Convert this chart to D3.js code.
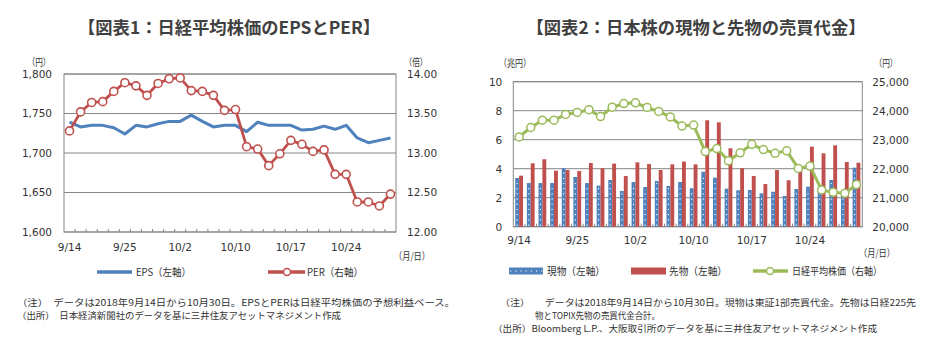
<!DOCTYPE html>
<html><head><meta charset="utf-8">
<script src="https://cdn.jsdelivr.net/npm/d3@7"></script>
<style>
body{margin:0;background:#fff;}
svg{display:block;}
text{fill:#333;}
.num{font-family:"DejaVu Sans",Verdana,sans-serif;font-size:10.5px;}
.jp{font-family:"Noto Sans CJK JP","Noto Sans",sans-serif;}
</style></head>
<body>
<script>
// ---- data ----
const dates = ["9/14","9/18","9/19","9/20","9/21","9/25","9/26","9/27","9/28","10/1","10/2","10/3","10/4","10/5","10/9","10/10","10/11","10/12","10/15","10/16","10/17","10/18","10/19","10/22","10/23","10/24","10/25","10/26","10/29","10/30"];
const dateTicks = ["9/14","9/25","10/2","10/10","10/17","10/24"];
const eps = [1739,1733,1735,1735,1732,1724,1735,1733,1737,1740,1740,1748,1740,1733,1735,1735,1727,1739,1735,1735,1735,1729,1730,1734,1730,1735,1719,1713,1716,1719];
const per = [13.28,13.52,13.64,13.65,13.78,13.89,13.85,13.73,13.88,13.94,13.95,13.79,13.78,13.73,13.54,13.55,13.08,13.05,12.84,12.99,13.16,13.11,13.02,13.04,12.73,12.73,12.38,12.38,12.33,12.48];
const epsTicks = [1600,1650,1700,1750,1800];
const perTicks = [12.0,12.5,13.0,13.5,14.0];
const genbutsu = [3.36,3.01,3.01,3.01,4.03,3.43,3.01,2.83,3.22,2.46,3.08,2.74,3.15,2.81,3.08,2.65,3.79,3.38,2.62,2.51,2.53,2.30,2.41,2.12,2.60,2.76,2.60,3.22,2.30,4.07];
const sakimono = [3.52,4.37,4.65,3.86,3.91,3.84,4.39,4.03,4.35,3.50,4.44,4.32,3.91,4.30,4.49,4.30,7.34,7.20,5.41,4.03,3.50,2.94,3.91,3.20,3.91,5.52,5.06,5.61,4.46,4.41];
const nikkei = [23094.67,23420.54,23672.52,23674.93,23869.93,23940.26,24033.79,23796.74,24120.04,24245.76,24270.62,24110.96,23975.62,23783.72,23469.39,23506.04,22590.86,22694.66,22271.30,22549.24,22841.12,22658.16,22532.08,22614.82,22010.78,22091.18,21268.73,21184.60,21149.80,21457.29];
const valTicks = [0,2,4,6,8,10];
const nkTicks = [20000,21000,22000,23000,24000,25000];

const BLUE="#4F81BD", RED="#C0504D", GREEN="#9BBB59", GRID="#868686";

const svg = d3.select("body").append("svg").attr("width",933).attr("height",356);

function title(x, t, w){
  svg.append("text").attr("class","jp").attr("x",x).attr("y",34)
    .attr("text-anchor","middle").style("font-size","17px").style("font-weight","bold")
    .style("fill","#404040").attr("textLength",w).attr("lengthAdjust","spacingAndGlyphs").text(t);
}
function label(x,y,t,opts={}){
  const e = svg.append("text").attr("class",opts.cls||"jp").attr("x",x).attr("y",y)
    .attr("text-anchor",opts.anchor||"start").attr("dy","0.35em")
    .style("font-size",(opts.size||10.5)+"px").text(t);
  if(opts.len) e.attr("textLength",opts.len).attr("lengthAdjust","spacingAndGlyphs");
  return e;
}
// note line
function note(x,y,t,len){
  svg.append("text").attr("class","jp").style("font-size","9px")
    .attr("x",x).attr("y",y).attr("dy","0.35em")
    .attr("textLength",len).attr("lengthAdjust","spacingAndGlyphs").text(t);
}

// ================= Chart 1 =================
title(229, "【図表1：日経平均株価のEPSとPER】", 302);
const L = {x0:64, x1:396, y0:74, y1:232};
const x1s = d3.scaleBand().domain(dates).range([L.x0, L.x1]).padding(0);
const yE = d3.scaleLinear().domain([1600,1800]).range([L.y1, L.y0]);
const yP = d3.scaleLinear().domain([12,14]).range([L.y1, L.y0]);
const g1 = svg.append("g");

g1.append("g").selectAll("line").data(epsTicks).join("line")
  .attr("x1",L.x0).attr("x2",L.x1).attr("y1",d=>yE(d)).attr("y2",d=>yE(d))
  .attr("stroke",GRID).attr("stroke-width",1);
g1.append("rect").attr("x",L.x0).attr("y",L.y0).attr("width",L.x1-L.x0).attr("height",L.y1-L.y0)
  .attr("fill","none").attr("stroke",GRID).attr("stroke-width",1);
g1.append("g").selectAll("line").data(dates.slice(1)).join("line")
  .attr("x1",d=>x1s(d)).attr("x2",d=>x1s(d)).attr("y1",L.y1).attr("y2",L.y1-3)
  .attr("stroke",GRID);
const axL1 = d3.axisLeft(yE).tickValues(epsTicks).tickFormat(d3.format(",")).tickSize(0).tickPadding(12);
const ga = svg.append("g").attr("transform",`translate(${L.x0},0)`).call(axL1);
const axR1 = d3.axisRight(yP).tickValues(perTicks).tickFormat(d3.format(".2f")).tickSize(0).tickPadding(11);
const gb = svg.append("g").attr("transform",`translate(${L.x1},0)`).call(axR1);
const axB1 = d3.axisBottom(x1s).tickValues(dateTicks).tickSize(0).tickPadding(12);
const gc = svg.append("g").attr("transform",`translate(0,${L.y1})`).call(axB1);
[ga,gb,gc].forEach(g=>{g.select(".domain").remove(); g.attr("font-family",null).attr("font-size",null); g.selectAll("text").attr("class","num").style("fill","#333");});

const lineE = d3.line().x((d,i)=>x1s(dates[i])+x1s.bandwidth()/2).y(d=>yE(d));
g1.append("path").datum(eps).attr("d",lineE).attr("fill","none").attr("stroke",BLUE).attr("stroke-width",3).attr("stroke-linejoin","round");
const lineP = d3.line().x((d,i)=>x1s(dates[i])+x1s.bandwidth()/2).y(d=>yP(d));
g1.append("path").datum(per).attr("d",lineP).attr("fill","none").attr("stroke",RED).attr("stroke-width",2.8).attr("stroke-linejoin","round");
g1.append("g").selectAll("circle").data(per).join("circle")
  .attr("cx",(d,i)=>x1s(dates[i])+x1s.bandwidth()/2).attr("cy",d=>yP(d)).attr("r",4)
  .attr("fill","#fff").attr("stroke",RED).attr("stroke-width",1.6);

label(39,62,"（円）",{anchor:"middle",len:23,size:10});
label(416,62,"（倍）",{anchor:"middle",len:23,size:10});
label(412,256,"（月/日）",{anchor:"middle",len:36,size:10});

// legend 1
svg.append("line").attr("x1",97).attr("x2",132).attr("y1",272).attr("y2",272).attr("stroke",BLUE).attr("stroke-width",3.5);
label(136,272,"EPS（左軸）",{len:55,size:10.5});
svg.append("line").attr("x1",268).attr("x2",305).attr("y1",272).attr("y2",272).attr("stroke",RED).attr("stroke-width",3.5);
svg.append("circle").attr("cx",287).attr("cy",272).attr("r",3.5).attr("fill","#fff").attr("stroke",RED).attr("stroke-width",1.5);
label(307,272,"PER（右軸）",{len:56,size:10.5});

// notes 1
note(17,303,"（注）　データは2018年9月14日から10月30日。EPSとPERは日経平均株価の予想利益ベース。",438);
note(17,316,"（出所）　日本経済新聞社のデータを基に三井住友アセットマネジメント作成",324);

// ================= Chart 2 =================
title(696, "【図表2：日本株の現物と先物の売買代金】", 339);
const R = {x0:513.3, x1:862.3, y0:81.7, y1:226.7};
const x2s = d3.scaleBand().domain(dates).range([R.x0, R.x1]).padding(0);
const yV = d3.scaleLinear().domain([0,10]).range([R.y1, R.y0]);
const yN = d3.scaleLinear().domain([20000,25000]).range([R.y1, R.y0]);
const g2 = svg.append("g");
g2.append("g").selectAll("line").data(valTicks).join("line")
  .attr("x1",R.x0).attr("x2",R.x1).attr("y1",d=>yV(d)).attr("y2",d=>yV(d))
  .attr("stroke",GRID).attr("stroke-width",1);
g2.append("rect").attr("x",R.x0).attr("y",R.y0).attr("width",R.x1-R.x0).attr("height",R.y1-R.y0)
  .attr("fill","none").attr("stroke",GRID).attr("stroke-width",1);

const bw = x2s.bandwidth()/3;
const cx2 = d=>x2s(d)+x2s.bandwidth()/2;
g2.append("g").selectAll("rect").data(genbutsu).join("rect")
  .attr("x",(d,i)=>cx2(dates[i])-bw).attr("width",bw)
  .attr("y",d=>yV(d)).attr("height",d=>yV(0)-yV(d)).attr("fill",BLUE);
g2.append("g").selectAll("line").data(genbutsu).join("line")
  .attr("x1",(d,i)=>cx2(dates[i])-bw/2).attr("x2",(d,i)=>cx2(dates[i])-bw/2)
  .attr("y1",d=>yV(0)-1).attr("y2",d=>yV(d)+2)
  .attr("stroke","#fff").attr("stroke-width",1.1).attr("stroke-dasharray","1.2,4");
g2.append("g").selectAll("rect").data(sakimono).join("rect")
  .attr("x",(d,i)=>cx2(dates[i])).attr("width",bw)
  .attr("y",d=>yV(d)).attr("height",d=>yV(0)-yV(d)).attr("fill",RED);
g2.append("g").selectAll("line").data(dates.slice(1)).join("line")
  .attr("x1",d=>x2s(d)).attr("x2",d=>x2s(d)).attr("y1",R.y1).attr("y2",R.y1-3)
  .attr("stroke",GRID);
const lineN = d3.line().x((d,i)=>cx2(dates[i])).y(d=>yN(d));
g2.append("path").datum(nikkei).attr("d",lineN).attr("fill","none").attr("stroke",GREEN).attr("stroke-width",3).attr("stroke-linejoin","round");
g2.append("g").selectAll("circle").data(nikkei).join("circle")
  .attr("cx",(d,i)=>cx2(dates[i])).attr("cy",d=>yN(d)).attr("r",4)
  .attr("fill","#fff").attr("stroke",GREEN).attr("stroke-width",1.5);

const axL2 = d3.axisLeft(yV).tickValues(valTicks).tickSize(0).tickPadding(11);
const gd = svg.append("g").attr("transform",`translate(${R.x0},0)`).call(axL2);
const axR2 = d3.axisRight(yN).tickValues(nkTicks).tickFormat(d3.format(",")).tickSize(0).tickPadding(10);
const ge = svg.append("g").attr("transform",`translate(${R.x1},0)`).call(axR2);
const axB2 = d3.axisBottom(x2s).tickValues(dateTicks).tickSize(0).tickPadding(10);
const gf = svg.append("g").attr("transform",`translate(0,${R.y1})`).call(axB2);
[gd,ge,gf].forEach(g=>{g.select(".domain").remove(); g.attr("font-family",null).attr("font-size",null); g.selectAll("text").attr("class","num").style("fill","#333");});

label(515,63,"（兆円）",{anchor:"middle",len:32,size:10});
label(886,63,"（円）",{anchor:"middle",len:23,size:10});
label(877,253,"（月/日）",{anchor:"middle",len:36,size:10});

// legend 2
svg.append("rect").attr("x",509).attr("y",267.5).attr("width",34).attr("height",7).attr("fill",BLUE);
svg.append("line").attr("x1",510).attr("x2",543).attr("y1",271).attr("y2",271).attr("stroke","#fff").attr("stroke-width",1.1).attr("stroke-dasharray","1.2,4");
label(547,271,"現物（左軸）",{len:58,size:10.5});
svg.append("rect").attr("x",631).attr("y",267.5).attr("width",35).attr("height",7).attr("fill",RED);
label(669,271,"先物（左軸）",{len:58,size:10.5});
svg.append("line").attr("x1",753).attr("x2",788).attr("y1",271).attr("y2",271).attr("stroke",GREEN).attr("stroke-width",3.5);
svg.append("circle").attr("cx",770).attr("cy",271).attr("r",3.5).attr("fill","#fff").attr("stroke",GREEN).attr("stroke-width",1.5);
label(792,271,"日経平均株価（右軸）",{len:90,size:10.5});

// notes 2
note(500,303,"（注）　　データは2018年9月14日から10月30日。現物は東証1部売買代金。先物は日経225先",416);
note(535,316,"物とTOPIX先物の売買代金合計。",125);
note(493,329,"（出所）Bloomberg L.P.、大阪取引所のデータを基に三井住友アセットマネジメント作成",384);
</script>
</body></html>
